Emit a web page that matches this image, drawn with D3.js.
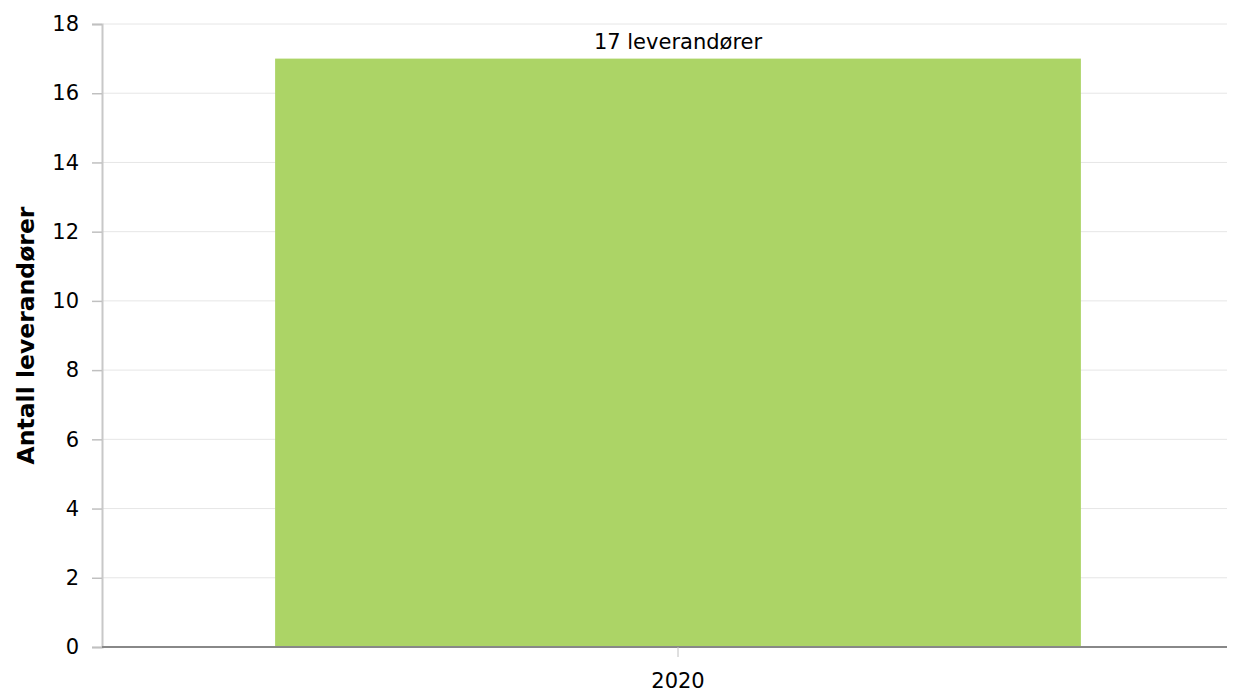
<!DOCTYPE html>
<html>
<head>
<meta charset="utf-8">
<script src="https://cdn.jsdelivr.net/npm/d3@7"></script>
<style>
  body { margin: 0; background: #fff; }
  text { font-family: "DejaVu Sans", Verdana, sans-serif; }
</style>
</head>
<body>
<div id="chart"></div>
<script>
var years = ["2020"];
var suppliers = [17];
var barLabels = ["17 leverandører"];
var yTicks = [0, 2, 4, 6, 8, 10, 12, 14, 16, 18];

var width = 1241, height = 693;
var plotLeft = 103, plotRight = 1227, plotTop = 24, plotBottom = 647;

var svg = d3.select("#chart")
  .append("svg")
  .attr("width", width)
  .attr("height", height);

var y = d3.scaleLinear()
  .domain([0, 18])
  .range([plotBottom, plotTop]);

var x = d3.scaleBand()
  .domain(years)
  .range([plotLeft, 1253])
  .paddingInner(0.176)
  .paddingOuter(0.176);

// Gridlines
svg.append("g")
  .selectAll("line")
  .data(yTicks.filter(function(d) { return d > 0; }))
  .enter().append("line")
  .attr("x1", plotLeft)
  .attr("x2", plotRight)
  .attr("y1", function(d) { return y(d); })
  .attr("y2", function(d) { return y(d); })
  .attr("stroke", "#e6e6e6")
  .attr("stroke-width", 1);

// Y axis
var yAxis = svg.append("g")
  .attr("transform", "translate(" + (plotLeft - 1) + ",0)")
  .call(d3.axisLeft(y).tickValues(yTicks).tickSize(10).tickPadding(13));
yAxis.select(".domain").attr("stroke", "#c8c8c8").attr("stroke-width", 2);
yAxis.selectAll(".tick line").attr("stroke", "#c0c0c0").attr("stroke-width", 1.5);
yAxis.selectAll(".tick text").attr("fill", "#000").style("font-size", "21px");

// Bars
svg.append("g")
  .selectAll("rect")
  .data(suppliers)
  .enter().append("rect")
  .attr("x", function(d, i) { return x(years[i]); })
  .attr("width", x.bandwidth())
  .attr("y", function(d) { return y(d); })
  .attr("height", function(d) { return y(0) - y(d); })
  .attr("fill", "#acd466");

// Bar labels
svg.append("g")
  .selectAll("text")
  .data(suppliers)
  .enter().append("text")
  .attr("x", function(d, i) { return x(years[i]) + x.bandwidth() / 2; })
  .attr("y", function(d) { return y(d) - 10; })
  .attr("text-anchor", "middle")
  .style("font-size", "21px")
  .attr("fill", "#000")
  .text(function(d, i) { return barLabels[i]; });

// X axis
svg.append("line")
  .attr("x1", plotLeft - 1)
  .attr("x2", plotRight)
  .attr("y1", plotBottom)
  .attr("y2", plotBottom)
  .attr("stroke", "#888")
  .attr("stroke-width", 2);

svg.append("g")
  .selectAll("g")
  .data(years)
  .enter().append("g")
  .each(function(d) {
    var cx = x(d) + x.bandwidth() / 2;
    d3.select(this).append("line")
      .attr("x1", cx).attr("x2", cx)
      .attr("y1", plotBottom).attr("y2", plotBottom + 10)
      .attr("stroke", "#c0c0c0");
    d3.select(this).append("text")
      .attr("x", cx)
      .attr("y", 688)
      .attr("text-anchor", "middle")
      .style("font-size", "21px")
      .attr("fill", "#000")
      .text(d);
  });

// Y axis title
svg.append("text")
  .attr("transform", "translate(34," + ((plotTop + plotBottom) / 2) + ") rotate(-90)")
  .attr("text-anchor", "middle")
  .style("font-size", "23.5px")
  .style("font-weight", "bold")
  .attr("fill", "#000")
  .text("Antall leverandører");
</script>
</body>
</html>
